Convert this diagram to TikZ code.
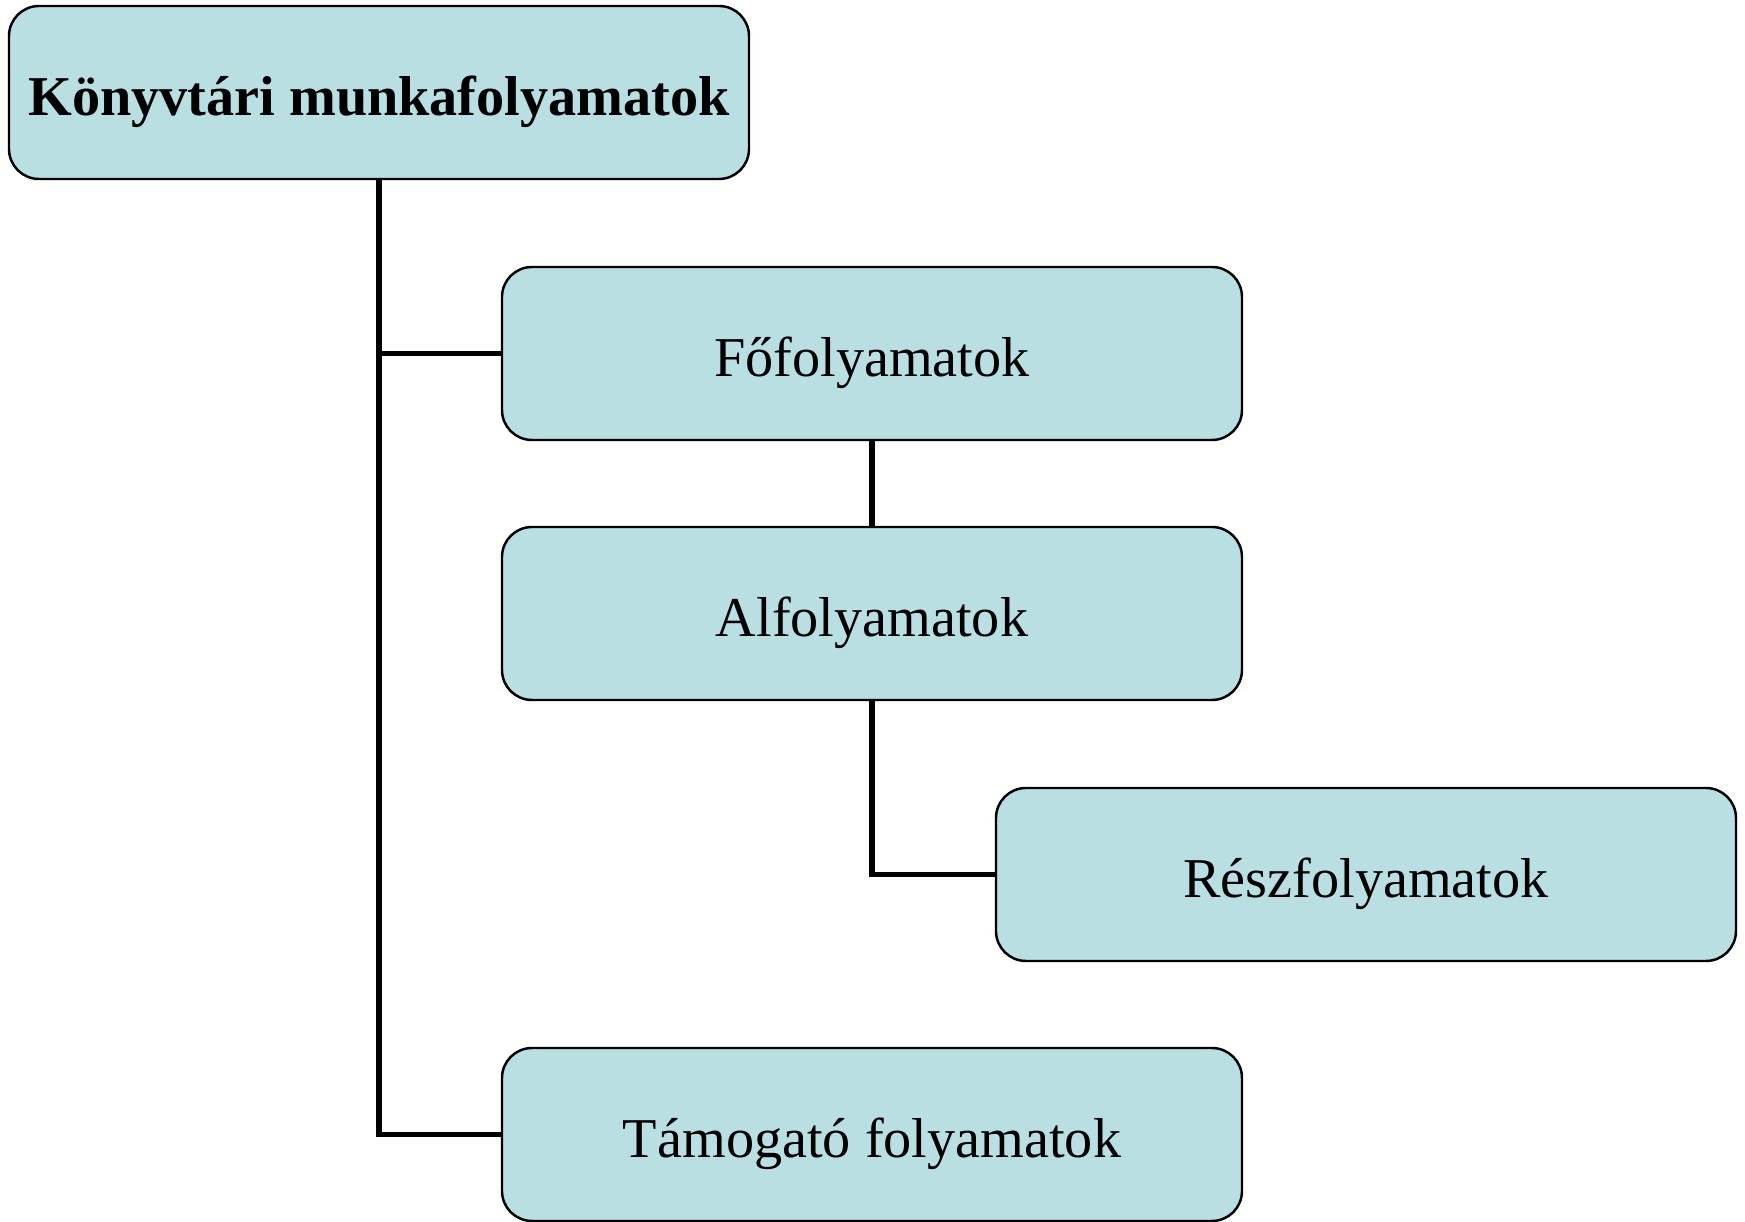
\documentclass[tikz,border=0pt]{standalone}
\usepackage{fontspec}
\setmainfont{Liberation Serif}
\usepackage{xcolor}
\definecolor{boxfill}{HTML}{BADFE3}

\begin{document}
\begin{tikzpicture}[
        every node/.style={rectangle, rounded corners=0.3cm, draw, line width=0.7pt,
            fill=boxfill, minimum width=7.4cm, minimum height=1.73cm,
            text height=17pt, text depth=4pt,
            font=\fontsize{16}{19}\selectfont},
        link/.style={line width=1.7pt}
    ]
    \useasboundingbox (0,0) rectangle (17.45,-12.22);

    % Root of the hierarchy
    \node (K) at (3.79,-0.925) {\bfseries Könyvtári munkafolyamatok};

    % Process levels
    \node (F) at (8.72,-3.535) {Főfolyamatok};
    \node (A) at (8.72,-6.135) {Alfolyamatok};
    \node (R) at (13.66,-8.745) {Részfolyamatok};
    \node (T) at (8.72,-11.345) {Támogató folyamatok};

    % Connectors
    \draw[link] (K.south) |- (T.west);
    \draw[link] (K.south |- F.west) -- (F.west);
    \draw[link] (F.south) -- (A.north);
    \draw[link] (A.south) |- (R.west);

\end{tikzpicture}
\end{document}
